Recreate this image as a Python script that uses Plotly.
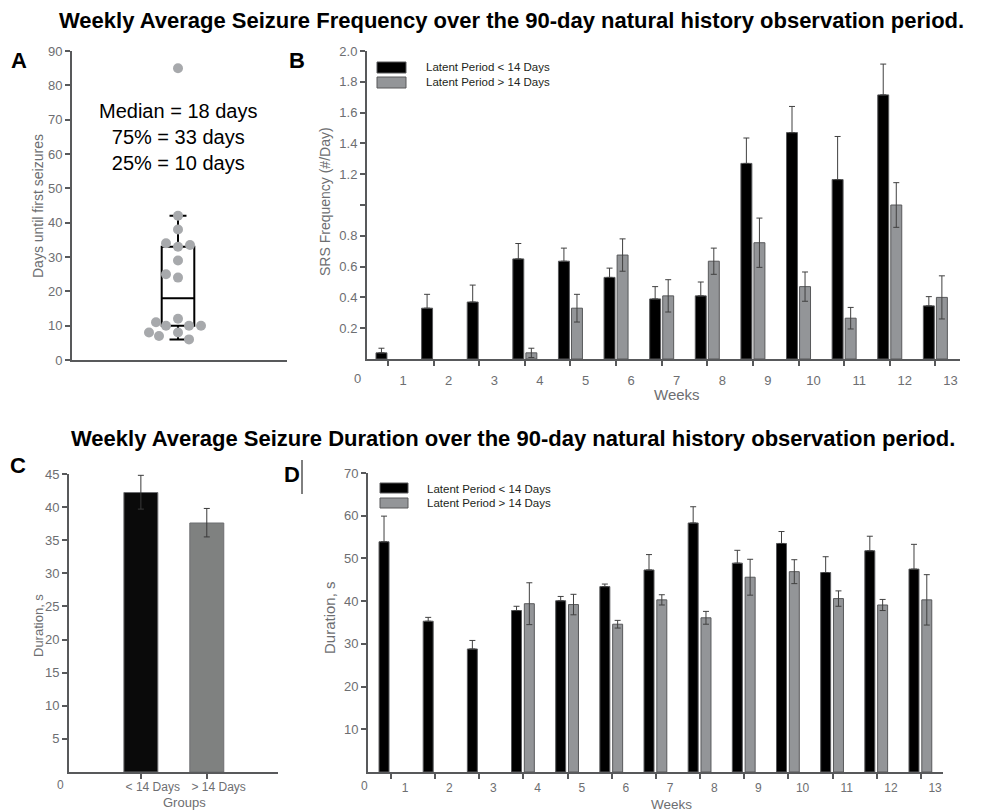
import plotly.graph_objects as go

# ---------------- data ----------------
# Panel A: days until first seizure, one value per animal
days_first = [85, 42, 38, 34, 33, 33.5, 29, 25, 24, 12, 11, 10, 10, 10, 8, 8, 7, 6]
days_q1, days_median, days_q3 = 10, 18, 33
days_low, days_high = 6, 42
summary_lines = ["Median = 18 days", "75% = 33 days", "25% = 10 days"]

# Panels B and D: weekly values
weeks = list(range(1, 14))
week_labels = [str(w) for w in weeks]
series_names = ["Latent Period < 14 Days", "Latent Period > 14 Days"]

freq_early = [0.04, 0.33, 0.37, 0.65, 0.635, 0.53, 0.39, 0.41, 1.27, 1.47, 1.165, 1.715, 0.345]
freq_early_err = [0.03, 0.09, 0.11, 0.10, 0.085, 0.06, 0.08, 0.09, 0.165, 0.17, 0.28, 0.20, 0.06]
freq_late = [None, None, None, 0.04, 0.33, 0.675, 0.41, 0.635, 0.755, 0.47, 0.265, 1.0, 0.40]
freq_late_err = [None, None, None, 0.03, 0.09, 0.105, 0.105, 0.085, 0.16, 0.095, 0.07, 0.145, 0.14]
freq_ticks = [0.2, 0.4, 0.6, 0.8, 1.0, 1.2, 1.4, 1.6, 1.8, 2.0]
freq_ticktext = ["0.2", "0.4", "0.6", "0.8", "", "1.2", "1.4", "1.6", "1.8", "2.0"]

dur_early = [53.9, 35.3, 28.8, 37.8, 40.1, 43.4, 47.3, 58.3, 48.9, 53.5, 46.7, 51.8, 47.5]
dur_early_err = [6.0, 0.9, 2.0, 1.0, 1.0, 0.6, 3.6, 3.8, 3.0, 2.8, 3.7, 3.4, 5.8]
dur_late = [None, None, None, 39.4, 39.2, 34.6, 40.3, 36.1, 45.6, 46.9, 40.6, 39.1, 40.3]
dur_late_err = [None, None, None, 4.9, 2.4, 0.9, 1.2, 1.5, 4.2, 2.8, 1.8, 1.3, 5.9]

# Panel C: overall duration per group
groups = ["< 14 Days", "> 14 Days"]
group_dur = [42.2, 37.6]
group_err_hi = [2.6, 2.2]
group_err_lo = [2.5, 2.1]

# ---------------- styling / layout helpers ----------------
jitter_px = [0, 0, 0, -12, 0, 12, 0, -12, 0, 0, -22, -12, 11, 23, -29, 0, -19, 11]

# page body has an 8px default margin: size the figure so it fits the 982x811 window
PAGE_W, PAGE_H, BODY = 982, 811, 8
W, H = PAGE_W - BODY, PAGE_H - BODY

FONT = "Liberation Sans, Arial, sans-serif"
LINE = "#58595b"
TICK = "#6d6e71"
ERR = "#404040"
BLACK = "#000000"
GRAY = "#939598"


def fx(p):
    return (p - BODY) / W


def fy(p):
    return 1 - (p - BODY) / H


axis_base = dict(showline=True, linecolor=LINE, linewidth=2, showgrid=False,
                 zeroline=False, ticks="outside", ticklen=5, tickwidth=2,
                 tickcolor=LINE, automargin=False,
                 tickfont=dict(family=FONT, size=13, color=TICK))

fig = go.Figure()

# ---- Panel A ----
fig.add_trace(go.Scatter(x=jitter_px, y=days_first, mode="markers",
                         marker=dict(size=10, color="#a7a9ac"),
                         xaxis="x", yaxis="y", showlegend=False))
fig.add_trace(go.Box(x=[0], q1=[days_q1], median=[days_median], q3=[days_q3],
                     lowerfence=[days_low], upperfence=[days_high],
                     width=32.6, whiskerwidth=0.52, boxpoints=False,
                     line=dict(color="black", width=2), fillcolor="rgba(0,0,0,0)",
                     xaxis="x", yaxis="y", showlegend=False))

# ---- Panel B ----
fig.add_trace(go.Bar(x=weeks, y=freq_early, width=0.24, offset=-0.263, name=series_names[0],
                     marker=dict(color=BLACK, line=dict(color=LINE, width=1)),
                     error_y=dict(type="data", array=freq_early_err, arrayminus=[0] * 13,
                                  symmetric=False, color=ERR, thickness=1, width=3),
                     xaxis="x2", yaxis="y2", showlegend=False))
fig.add_trace(go.Bar(x=weeks, y=freq_late, width=0.24, offset=0.023, name=series_names[1],
                     marker=dict(color=GRAY, line=dict(color=LINE, width=1)),
                     error_y=dict(type="data", array=freq_late_err, color=ERR,
                                  thickness=1, width=3),
                     xaxis="x2", yaxis="y2", showlegend=False))

# ---- Panel C ----
fig.add_trace(go.Bar(x=[1, 2], y=group_dur, width=0.515,
                     marker=dict(color=["#0a0a0a", "#7f8180"], line=dict(color=TICK, width=1)),
                     error_y=dict(type="data", array=group_err_hi, arrayminus=group_err_lo,
                                  symmetric=False, color="#3a3a3a", thickness=1, width=3),
                     xaxis="x3", yaxis="y3", showlegend=False))

# ---- Panel D ----
fig.add_trace(go.Bar(x=weeks, y=dur_early, width=0.226, offset=-0.27, name=series_names[0],
                     marker=dict(color=BLACK, line=dict(color=LINE, width=1)),
                     error_y=dict(type="data", array=dur_early_err, arrayminus=[0] * 13,
                                  symmetric=False, color=ERR, thickness=1, width=3),
                     xaxis="x4", yaxis="y4", showlegend=False))
fig.add_trace(go.Bar(x=weeks, y=dur_late, width=0.226, offset=0.02, name=series_names[1],
                     marker=dict(color=GRAY, line=dict(color=LINE, width=1)),
                     error_y=dict(type="data", array=dur_late_err, color=ERR,
                                  thickness=1, width=3),
                     xaxis="x4", yaxis="y4", showlegend=False))

minor_ticks = dict(tickmode="array", ticks="outside", ticklen=5, tickwidth=2, tickcolor=LINE)
small_tickfont = dict(family=FONT, size=12, color=TICK)

fig.update_layout(
    template="none",
    width=W, height=H, margin=dict(l=0, r=0, t=0, b=0, autoexpand=False),
    paper_bgcolor="white", plot_bgcolor="white", barmode="overlay",
    font=dict(family=FONT), showlegend=False,
    xaxis=dict(axis_base, domain=[fx(72), fx(287)], range=[-106, 109], ticks="",
               showticklabels=False, anchor="y"),
    yaxis=dict(axis_base, domain=[fy(360), fy(51)], range=[0, 90],
               tickvals=list(range(0, 91, 10)), anchor="x"),
    xaxis2=dict(axis_base, domain=[fx(367), fx(960)], range=[0.54, 13.54], ticks="",
                tickvals=[w + 0.33 for w in weeks], ticktext=week_labels,
                minor=dict(minor_ticks, tickvals=weeks), ticklabelstandoff=8, anchor="y2"),
    yaxis2=dict(axis_base, domain=[fy(359), fy(51)], range=[0, 2],
                tickvals=freq_ticks, ticktext=freq_ticktext, anchor="x2"),
    xaxis3=dict(axis_base, domain=[fx(69), fx(278)], range=[-0.09, 3.08], ticks="",
                tickvals=[1.18, 2.18], ticktext=groups, tickfont=small_tickfont,
                minor=dict(minor_ticks, tickvals=[1, 2]), ticklabelstandoff=3, anchor="y3"),
    yaxis3=dict(axis_base, domain=[fy(772), fy(474)], range=[0, 45],
                tickvals=list(range(5, 46, 5)), anchor="x3"),
    xaxis4=dict(axis_base, domain=[fx(368), fx(943)], range=[0.48, 13.5], ticks="",
                tickvals=[w + 0.32 for w in weeks], ticktext=week_labels, tickfont=small_tickfont,
                minor=dict(minor_ticks, tickvals=weeks), ticklabelstandoff=4, anchor="y4"),
    yaxis4=dict(axis_base, domain=[fy(772), fy(473)], range=[0, 70],
                tickvals=list(range(10, 71, 10)), anchor="x4"),
)

ann = []


def text(x, y, s, size, color="black", bold=False, angle=0, xanchor="center"):
    ann.append(dict(x=fx(x), y=fy(y), xref="paper", yref="paper",
                    text=f"<b>{s}</b>" if bold else s, showarrow=False, textangle=angle,
                    xanchor=xanchor, yanchor="middle",
                    font=dict(family=FONT, size=size, color=color)))


# titles
text(511, 21, "Weekly Average Seizure Frequency over the 90-day natural history observation period.", 22, bold=True)
text(513, 438, "Weekly Average Seizure Duration over the 90-day natural history observation period.", 22, bold=True)
# panel letters
text(19, 60, "A", 22, bold=True)
text(297, 60, "B", 22, bold=True)
text(18, 466, "C", 22, bold=True)
text(292, 474, "D", 22, bold=True)
# summary text in A (one text block)
text(178, 137, "<br>".join(summary_lines), 20)
# axis titles
text(38, 206, "Days until first seizures", 14, TICK, angle=-90)
text(325, 202, "SRS Frequency (#/Day)", 14, TICK, angle=-90)
text(677, 395, "Weeks", 15, TICK)
text(38, 626, "Duration, s", 13, TICK, angle=-90)
text(184, 802, "Groups", 13, TICK)
text(329, 618, "Duration, s", 15, TICK, angle=-90)
text(671, 804, "Weeks", 13.5, TICK)
# stray "0" labels on the x rows
text(357, 378, "0", 13, TICK)
text(60, 785, "0", 12, TICK)
text(364, 786, "0", 12, TICK)
# legend texts
text(424, 67, series_names[0], 11.5, "#231f20", xanchor="left")
text(424, 82, series_names[1], 11.5, "#231f20", xanchor="left")
text(425, 489, series_names[0], 11.5, "#231f20", xanchor="left")
text(425, 503, series_names[1], 11.5, "#231f20", xanchor="left")

shapes = []


def rect(x0, y0, x1, y1, color):
    shapes.append(dict(type="rect", xref="paper", yref="paper", x0=fx(x0), x1=fx(x1),
                       y0=fy(y1), y1=fy(y0), fillcolor=color, line=dict(color=LINE, width=1)))


rect(377, 62, 406, 73, BLACK)
rect(377, 77, 406, 88, GRAY)
rect(380, 483, 408, 493, BLACK)
rect(380, 498, 408, 508, GRAY)
shapes.append(dict(type="line", xref="paper", yref="paper", x0=fx(302), x1=fx(302),
                   y0=fy(494), y1=fy(460), line=dict(color="black", width=1)))

fig.update_layout(annotations=ann, shapes=shapes)
fig.write_html("out.html")
